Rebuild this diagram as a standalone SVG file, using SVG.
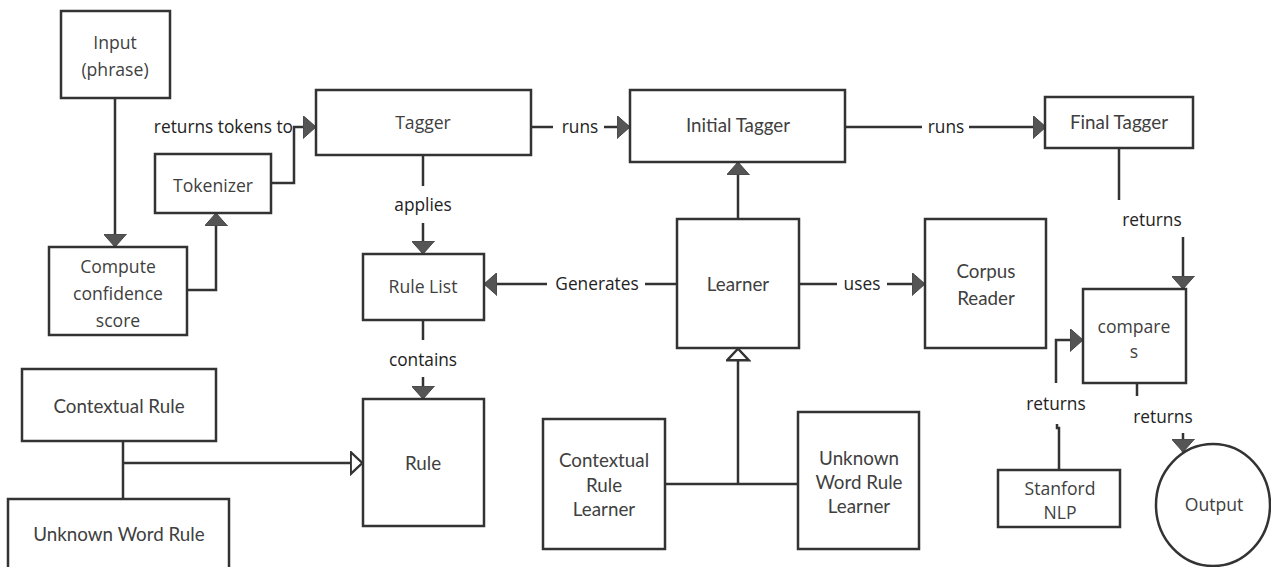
<svg xmlns="http://www.w3.org/2000/svg" width="1271" height="567" viewBox="0 0 1271 567">
  <style>
    .box { fill: #ffffff; stroke: #333333; stroke-width: 2.5; }
    .ln { fill: none; stroke: #333333; stroke-width: 2.5; }
    .t { font-family: "Open Sans", "Liberation Sans", sans-serif; font-size: 17.6px; fill: #404040; text-anchor: middle; }
    .l { font-family: Lato, "Liberation Sans", sans-serif; font-size: 18.8px; fill: #404040; text-anchor: middle; }
    .lab { font-family: "Open Sans", "Liberation Sans", sans-serif; font-size: 17.3px; fill: #222222; text-anchor: middle; }
  </style>
  <defs>
    <marker id="arr" viewBox="0 0 13 23" refX="13" refY="11.5" markerWidth="13" markerHeight="23" markerUnits="userSpaceOnUse" orient="auto">
      <path d="M0,0 L13,11.5 L0,23 Z" fill="#555555" stroke="#444444" stroke-width="1"/>
    </marker>
    <marker id="tri" viewBox="0 0 14 25" refX="13.5" refY="12.5" markerWidth="14" markerHeight="25" markerUnits="userSpaceOnUse" orient="auto">
      <path d="M1.2,1.5 L12.8,12.5 L1.2,23.5 Z" fill="#ffffff" stroke="#333333" stroke-width="2.4"/>
    </marker>
  </defs>

  <rect width="1271" height="567" fill="#ffffff"/>

  <!-- connectors -->
  <g id="connectors">
    <path class="ln" d="M115,98 V247" marker-end="url(#arr)"/>
    <path class="ln" d="M187,290 H216 V213" marker-end="url(#arr)"/>
    <path class="ln" d="M271,183 H294 V127 H316" marker-end="url(#arr)"/>
    <text class="lab" x="293" y="133" style="text-anchor:end">returns tokens to</text>

    <!-- Tagger runs Initial Tagger -->
    <path class="ln" d="M531,127 H553"/>
    <text class="lab" x="580" y="133">runs</text>
    <path class="ln" d="M604,127 H630" marker-end="url(#arr)"/>

    <!-- Initial Tagger runs Final Tagger -->
    <path class="ln" d="M845,127 H922"/>
    <text class="lab" x="946" y="133">runs</text>
    <path class="ln" d="M969,127 H1046" marker-end="url(#arr)"/>

    <!-- Tagger applies Rule List -->
    <path class="ln" d="M423,155 V186"/>
    <text class="lab" x="423" y="211">applies</text>
    <path class="ln" d="M423,223 V254" marker-end="url(#arr)"/>

    <!-- Learner generates Rule List -->
    <path class="ln" d="M677,284 H645"/>
    <text class="lab" x="597" y="290">Generates</text>
    <path class="ln" d="M547,284 H484" marker-end="url(#arr)"/>

    <!-- Learner uses Corpus Reader -->
    <path class="ln" d="M799,284 H837"/>
    <text class="lab" x="862" y="290">uses</text>
    <path class="ln" d="M887,284 H925" marker-end="url(#arr)"/>

    <!-- Learner to Initial Tagger -->
    <path class="ln" d="M738,219 V162" marker-end="url(#arr)"/>

    <!-- Rule List contains Rule -->
    <path class="ln" d="M423,320 V340"/>
    <text class="lab" x="423" y="366">contains</text>
    <path class="ln" d="M423,377 V399" marker-end="url(#arr)"/>

    <!-- rule kinds generalise Rule -->
    <path class="ln" d="M123,441 V499"/>
    <path class="ln" d="M123,463 H363" marker-end="url(#tri)"/>

    <!-- learner kinds generalise Learner -->
    <path class="ln" d="M665,484 H798"/>
    <path class="ln" d="M738,484 V348" marker-end="url(#tri)"/>

    <!-- Final Tagger returns to compares -->
    <path class="ln" d="M1119,148 V200"/>
    <text class="lab" x="1152" y="226">returns</text>
    <path class="ln" d="M1183,237 V289" marker-end="url(#arr)"/>

    <!-- Stanford NLP returns to compares -->
    <path class="ln" d="M1059,470 V428 H1057 V424"/>
    <text class="lab" x="1056" y="410">returns</text>
    <path class="ln" d="M1056,383 V340 H1083" marker-end="url(#arr)"/>

    <!-- compares returns Output -->
    <path class="ln" d="M1137,383 V396"/>
    <text class="lab" x="1163" y="423">returns</text>
    <path class="ln" d="M1183,433 V452" marker-end="url(#arr)"/>
  </g>

  <!-- nodes -->
  <g id="input">
    <rect class="box" x="61" y="11" width="109" height="87"/>
    <text class="t" x="115" y="49">Input</text>
    <text class="t" x="115" y="76">(phrase)</text>
  </g>
  <g id="tokenizer">
    <rect class="box" x="155" y="154" width="116" height="59"/>
    <text class="t" x="213" y="192">Tokenizer</text>
  </g>
  <g id="compute">
    <rect class="box" x="49" y="247" width="138" height="88"/>
    <text class="t" x="118" y="273">Compute</text>
    <text class="t" x="118" y="300">confidence</text>
    <text class="t" x="118" y="327">score</text>
  </g>
  <g id="tagger">
    <rect class="box" x="316" y="90" width="215" height="65"/>
    <text class="t" x="423" y="129">Tagger</text>
  </g>
  <g id="initial-tagger">
    <rect class="box" x="630" y="90" width="215" height="72"/>
    <text class="l" x="738" y="132">Initial Tagger</text>
  </g>
  <g id="final-tagger">
    <rect class="box" x="1045" y="97" width="148" height="51"/>
    <text class="l" x="1119" y="129">Final Tagger</text>
  </g>
  <g id="rule-list">
    <rect class="box" x="363" y="254" width="121" height="66"/>
    <text class="t" x="423" y="293">Rule List</text>
  </g>
  <g id="learner">
    <rect class="box" x="677" y="219" width="122" height="129"/>
    <text class="l" x="738" y="291">Learner</text>
  </g>
  <g id="corpus-reader">
    <rect class="box" x="925" y="219" width="121" height="129"/>
    <text class="l" x="986" y="278">Corpus</text>
    <text class="l" x="986" y="305">Reader</text>
  </g>
  <g id="compares">
    <rect class="box" x="1083" y="289" width="103" height="94"/>
    <text class="t" x="1134" y="333">compare</text>
    <text class="t" x="1134" y="358">s</text>
  </g>
  <g id="stanford-nlp">
    <rect class="box" x="998" y="470" width="122" height="57"/>
    <text class="t" x="1060" y="495">Stanford</text>
    <text class="t" x="1060" y="519">NLP</text>
  </g>
  <g id="output">
    <ellipse class="box" cx="1213" cy="505" rx="57" ry="61"/>
    <text class="t" x="1214" y="511">Output</text>
  </g>
  <g id="contextual-rule">
    <rect class="box" x="22" y="369" width="194" height="72"/>
    <text class="l" x="119" y="413">Contextual Rule</text>
  </g>
  <g id="unknown-word-rule">
    <rect class="box" x="8" y="499" width="221" height="80"/>
    <text class="l" x="119" y="541">Unknown Word Rule</text>
  </g>
  <g id="rule">
    <rect class="box" x="363" y="399" width="121" height="127"/>
    <text class="l" x="423" y="470">Rule</text>
  </g>
  <g id="contextual-rule-learner">
    <rect class="box" x="543" y="419" width="122" height="130"/>
    <text class="l" x="604" y="467">Contextual</text>
    <text class="l" x="604" y="492">Rule</text>
    <text class="l" x="604" y="516">Learner</text>
  </g>
  <g id="unknown-word-rule-learner">
    <rect class="box" x="798" y="412" width="121" height="137"/>
    <text class="l" x="859" y="465">Unknown</text>
    <text class="l" x="859" y="489">Word Rule</text>
    <text class="l" x="859" y="513">Learner</text>
  </g>
</svg>
